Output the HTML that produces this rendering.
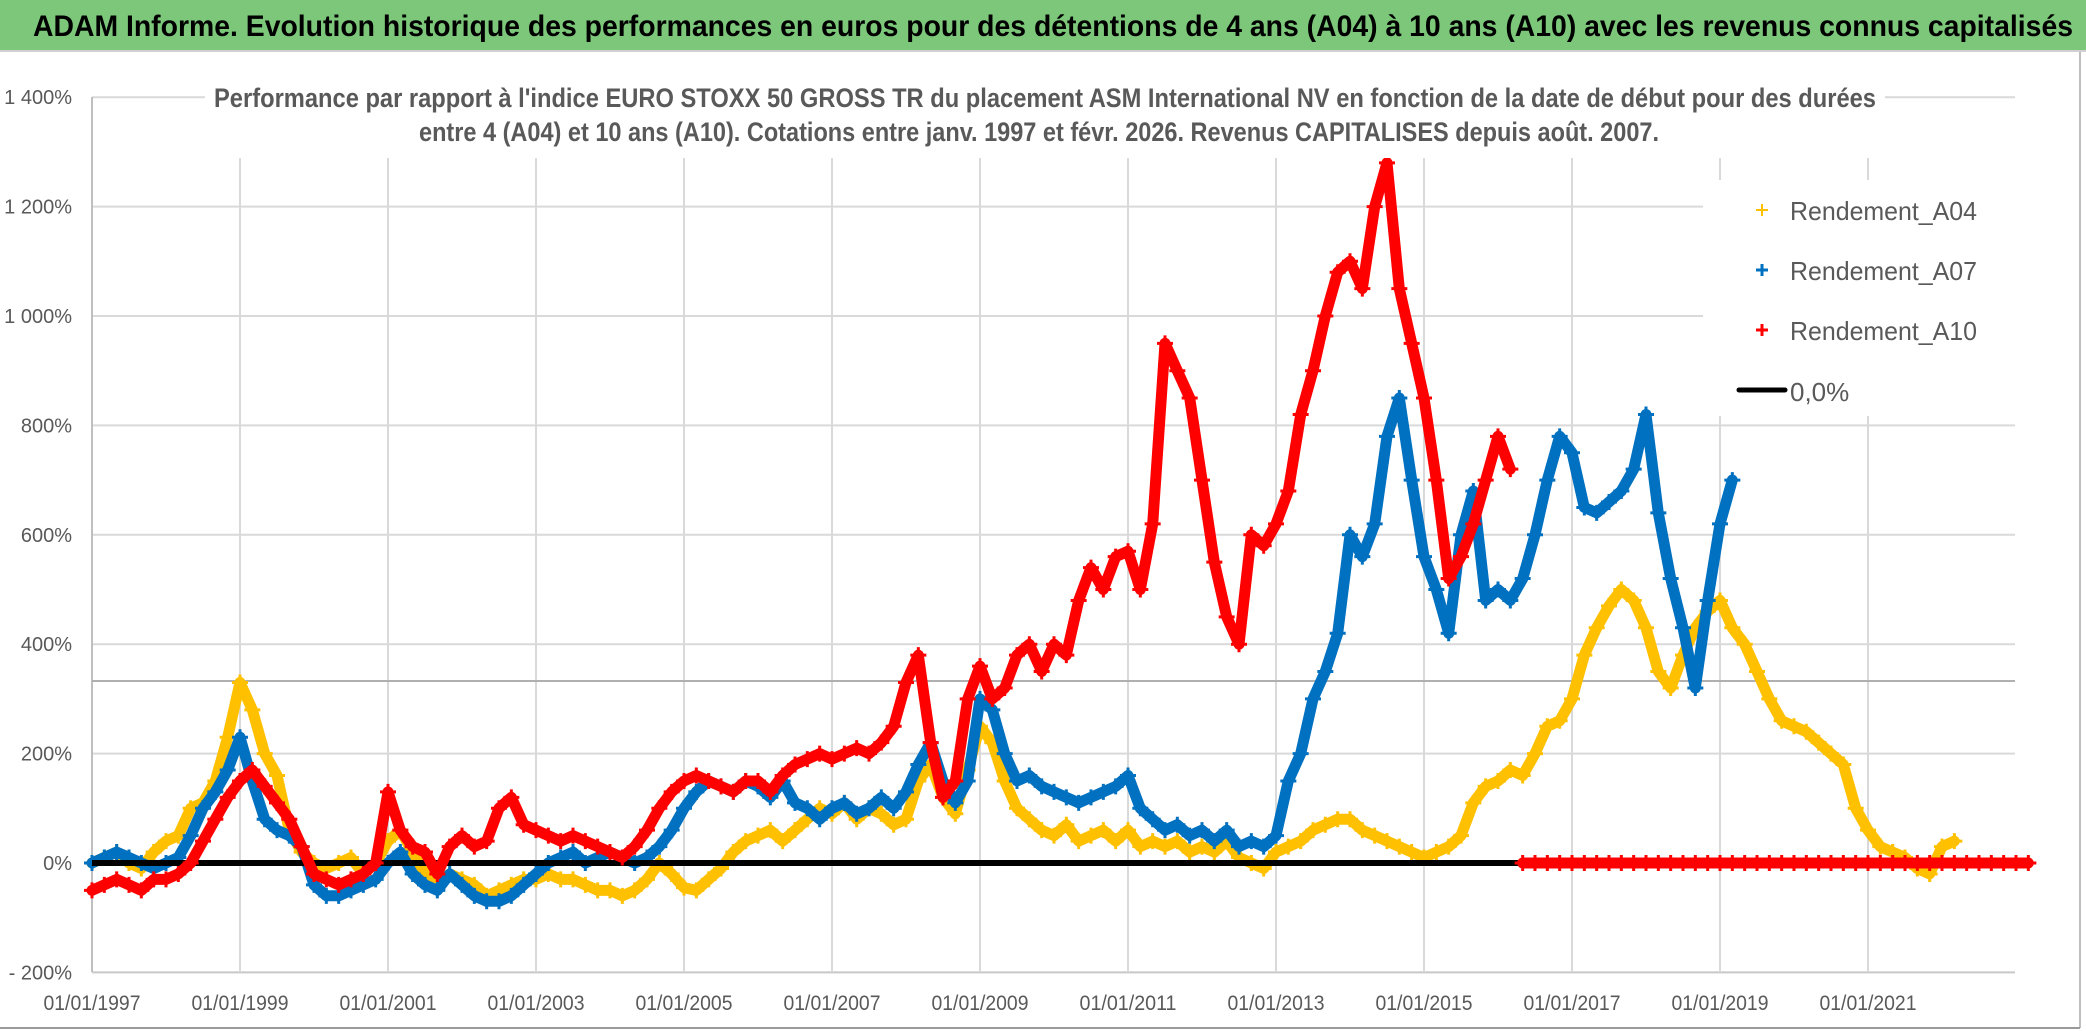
<!DOCTYPE html>
<html><head><meta charset="utf-8"><style>
html,body{margin:0;padding:0;background:#fff;}
svg{display:block;font-family:"Liberation Sans",sans-serif;}
</style></head><body>
<svg id="chart" width="2086" height="1031" viewBox="0 0 2086 1031" xmlns="http://www.w3.org/2000/svg">
<rect x="0" y="0" width="2086" height="1031" fill="#fff"/>
<rect x="0" y="0" width="2086" height="50" fill="#7cc77a"/>
<line x1="0" y1="51" x2="2086" y2="51" stroke="#d0d0d0" stroke-width="2"/>
<text x="33" y="36" font-size="30" font-weight="bold" fill="#000" textLength="2040" lengthAdjust="spacingAndGlyphs">ADAM Informe. Evolution historique des performances en euros pour des détentions de 4 ans (A04) à 10 ans (A10) avec les revenus connus capitalisés</text>
<g id="grid"></g>
<g id="series"></g>
<rect x="205" y="72" width="1680" height="86" fill="#fff"/>
<text x="214" y="107" font-size="27" font-weight="bold" fill="#595959" textLength="1662" lengthAdjust="spacingAndGlyphs">Performance par rapport à l'indice EURO STOXX 50 GROSS TR  du placement ASM International NV en fonction de la date de début pour des durées</text>
<text x="419" y="141" font-size="27" font-weight="bold" fill="#595959" textLength="1240" lengthAdjust="spacingAndGlyphs">entre 4 (A04) et 10 ans (A10). Cotations entre janv. 1997 et févr. 2026. Revenus CAPITALISES depuis août. 2007.</text>
<g id="legend">
<rect x="1703" y="180" width="312" height="236" fill="#fff"/>
<g>
<path d="M1756 210H1768M1762 204V216" stroke="#ffc000" stroke-width="2"/>
<text x="1790" y="220" font-size="26" fill="#595959" textLength="187" lengthAdjust="spacingAndGlyphs">Rendement_A04</text></g>
<g>
<path d="M1756 270H1768M1762 264V276" stroke="#0070c0" stroke-width="3"/>
<text x="1790" y="280" font-size="26" fill="#595959" textLength="187" lengthAdjust="spacingAndGlyphs">Rendement_A07</text></g>
<g>
<path d="M1756 330H1768M1762 324V336" stroke="#ff0000" stroke-width="3"/>
<text x="1790" y="340" font-size="26" fill="#595959" textLength="187" lengthAdjust="spacingAndGlyphs">Rendement_A10</text></g>
<g>
<line x1="1739" y1="390" x2="1785" y2="390" stroke="#000" stroke-width="5" stroke-linecap="round"/>
<text x="1790" y="401" font-size="26" fill="#595959">0,0%</text></g>
</g>
<line x1="2080" y1="52" x2="2080" y2="1028" stroke="#bfbfbf" stroke-width="2"/>
<line x1="0" y1="1028" x2="2080" y2="1028" stroke="#9a9a9a" stroke-width="2"/>
</svg>
<script>
const startYear = 1997;
const stepYear = 1/6;
const xTickLabels = ["01/01/1997","01/01/1999","01/01/2001","01/01/2003","01/01/2005","01/01/2007","01/01/2009","01/01/2011","01/01/2013","01/01/2015","01/01/2017","01/01/2019","01/01/2021"];
const xTickYears = [1997,1999,2001,2003,2005,2007,2009,2011,2013,2015,2017,2019,2021];
const yTickValues = [1400,1200,1000,800,600,400,200,0,-200];
const yTickLabels = ["1 400%","1 200%","1 000%","800%","600%","400%","200%","0%","- 200%"];
const a04 = [0,10,20,0,-10,20, 40,50,100,110,150,230, 330,280,200,160,60,20, 0,-10,0,10,-20,0,
 40,60,20,-20,-40,-20, -30,-40,-60,-50,-40,-30, -30,-20,-30,-30,-40,-50, -50,-60,-50,-30,0,-20,
 -45,-50,-30,-10,20,40, 50,60,40,60,80,100, 90,110,80,100,90,70, 80,150,180,120,90,170,
 250,220,150,100,80,60, 50,70,40,50,60,40, 60,30,40,30,40,20, 30,20,40,10,0,-10,
 20,30,40,60,70,80, 80,60,50,40,30,20, 10,20,30,50,110,140, 150,170,160,200,250,260,
 300,380,430,470,500,480, 430,350,320,380,430,460, 480,430,400,350,300,260, 250,240,220,200,180,100,
 60,30,20,10,-10,-20, 30,40];
const a07 = [0,10,20,10,0,-10, 0,10,50,100,130,170, 230,150,80,60,50,30, -40,-60,-60,-50,-40,-30,
 0,20,-20,-40,-50,-20, -40,-60,-70,-70,-60,-40, -20,0,10,20,0,10, 20,10,0,10,30,60,
 100,130,150,140,130,150, 140,120,150,110,100,80, 100,110,90,100,120,100, 130,180,220,150,110,150,
 300,280,200,150,160,140, 130,120,110,120,130,140, 160,100,80,60,70,50, 60,40,60,30,40,30,
 50,150,200,300,350,420, 600,560,620,780,850,700, 560,500,420,600,680,480, 500,480,520,600,700,780,
 750,650,640,660,680,720, 820,640,520,430,320,480, 620,700];
const a10 = [-50,-40,-30,-40,-50,-30, -30,-20,0,40,80,120, 150,170,140,110,80,30, -20,-30,-40,-30,-20,0,
 130,60,30,20,-20,30, 50,30,40,100,120,70, 60,50,40,50,40,30, 20,10,30,60,100,130,
 150,160,150,140,130,150, 150,130,160,180,190,200, 190,200,210,200,220,250, 330,380,220,120,150,300,
 360,300,320,380,400,350, 400,380,480,540,500,560, 570,500,620,950,900,850, 700,550,450,400,600,580,
 620,680,820,900,1000,1080, 1100,1050,1200,1280,1050,950, 850,700,520,560,620,700, 780,720,0,0,0,0,
 0,0,0,0,0,0, 0,0,0,0,0,0, 0,0,0,0,0,0, 0,0,0,0,0,0, 0,0,0,0,0,0, 0,0,0,0,0,0, 0,0];
const zeroLineYears = [1997, 2016.3];
const zeroLineValues = [0, 0];

const NS = "http://www.w3.org/2000/svg";
const X0 = 92, PX_PER_YEAR = 74, Y0 = 863, PX_PER_PCT = 0.547;
const PLOT_L = 92, PLOT_R = 2015, PLOT_T = 97, PLOT_B = 972;
function xScale(t){ return X0 + (t - 1997) * PX_PER_YEAR; }
function yScale(v){ return Y0 - v * PX_PER_PCT; }
function mk(tag, attrs, parent){ const e = document.createElementNS(NS, tag); for (const k in attrs) e.setAttribute(k, attrs[k]); parent.appendChild(e); return e; }

const grid = document.getElementById('grid');
yTickValues.forEach((v, i) => {
  const gl = mk('line', {x1: PLOT_L, x2: PLOT_R, y1: yScale(v), y2: yScale(v), stroke: v === -200 ? '#c8c8c8' : '#d9d9d9', 'stroke-width': 2}, grid);
  
  
  const tl = mk('text', {x: 72, y: yScale(v) + 7, 'font-size': 20, fill: '#595959', 'text-anchor': 'end'}, grid);
  tl.textContent = yTickLabels[i];
  
  
});
xTickYears.forEach((yr, i) => {
  const gl = mk('line', {x1: xScale(yr), x2: xScale(yr), y1: PLOT_T, y2: PLOT_B, stroke: i === 0 ? '#bfbfbf' : '#d9d9d9', 'stroke-width': 2}, grid);
  
  
  const tl = mk('text', {x: xScale(yr), y: 1010, 'font-size': 21, fill: '#595959', 'text-anchor': 'middle', textLength: 97, lengthAdjust: 'spacingAndGlyphs'}, grid);
  tl.textContent = xTickLabels[i];
  
  
});
const stray = mk('line', {x1: PLOT_L, x2: PLOT_R, y1: 681, y2: 681, stroke: '#b0b0b0', 'stroke-width': 2}, grid);



const series = document.getElementById('series');
function drawSeries(vals, color, name){
  const g = mk('g', {}, series);
  
  
  let d = '';
  let prev = null;
  vals.forEach((v, i) => {
    const x = xScale(startYear + i * stepYear), y = yScale(v);
    const breakHere = prev === null || (v === 0 && prev > 300);
    d += (breakHere ? 'M' : 'L') + x.toFixed(1) + ' ' + y.toFixed(1);
    prev = v;
  });
  const p = mk('path', {d: d, fill: 'none', stroke: color, 'stroke-width': 11, 'stroke-linejoin': 'round', 'stroke-linecap': 'round'}, g);
  
  
  vals.forEach((v, i) => {
    const x = xScale(startYear + i * stepYear), y = yScale(v);
    const m = mk('path', {d: `M${x-8} ${y}H${x+8}M${x} ${y-8}V${y+8}`, stroke: color, 'stroke-width': 3}, g);
    
    
  });
}
drawSeries(a04, '#ffc000', 'series-a04');
drawSeries(a07, '#0070c0', 'series-a07');
const zl = mk('line', {x1: xScale(zeroLineYears[0]), x2: xScale(zeroLineYears[1]), y1: yScale(zeroLineValues[0]), y2: yScale(zeroLineValues[1]), stroke: '#000', 'stroke-width': 6}, series);


drawSeries(a10, '#ff0000', 'series-a10');
</script>
</body></html>
